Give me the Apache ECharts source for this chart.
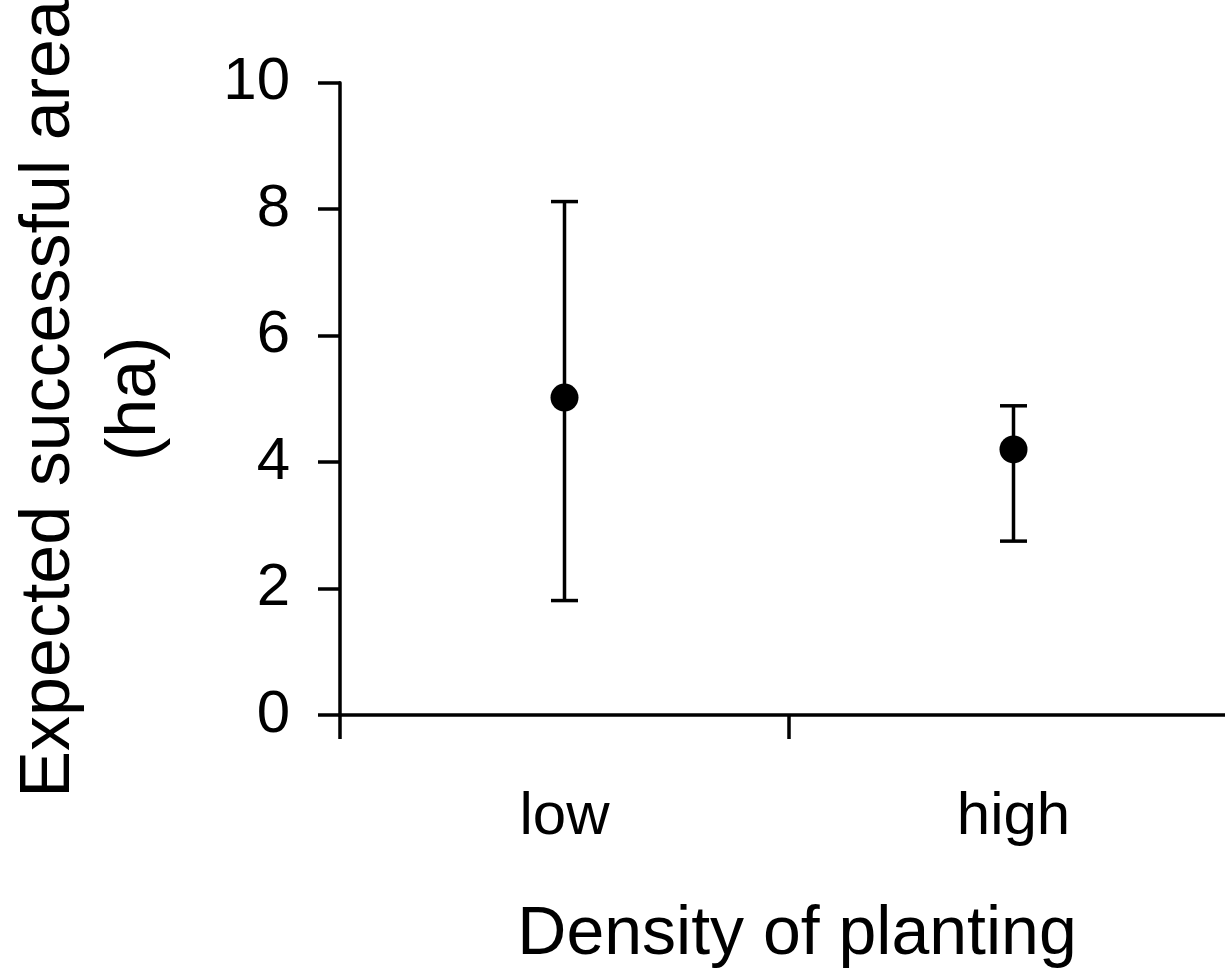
<!DOCTYPE html>
<html>
<head>
<meta charset="utf-8">
<script src="https://cdn.jsdelivr.net/npm/echarts@6/dist/echarts.min.js"></script>
<style>
  html, body { margin: 0; padding: 0; background: #fff; }
  #chart { width: 1225px; height: 973px; }
</style>
</head>
<body>
<div id="chart"></div>
<script>
var categories = ['low', 'high'];
var means = [5.02, 4.20];
var upper = [8.12, 4.89];
var lower = [1.81, 2.75];
var yTicks = [0, 2, 4, 6, 8, 10];

var font = "'Liberation Sans', Arial, sans-serif";
var myChart = echarts.init(document.getElementById('chart'));

var barData = [];
for (var i = 0; i < categories.length; i++) {
  barData.push([i, lower[i], upper[i]]);
}

var option = {
  animation: false,
  backgroundColor: '#fff',
  grid: { left: 340, top: 82.7, width: 898, bottom: 258, containLabel: false, outerBoundsMode: 'none' },
  xAxis: {
    type: 'category',
    data: categories,
    boundaryGap: true,
    axisLine: { lineStyle: { color: '#000', width: 3.5 } },
    axisTick: { show: true, length: 24, lineStyle: { color: '#000', width: 3.5 } },
    axisLabel: { color: '#000', fontSize: 60, fontFamily: font, margin: 72 },
    name: 'Density of planting',
    nameLocation: 'middle',
    nameGap: 186,
    nameTextStyle: { color: '#000', fontSize: 68, fontFamily: font, padding: [0, 0, 0, 16] }
  },
  yAxis: {
    type: 'value',
    min: yTicks[0],
    max: yTicks[yTicks.length - 1],
    interval: 2,
    splitLine: { show: false },
    axisLine: { show: true, lineStyle: { color: '#000', width: 3.5 } },
    axisTick: { show: true, length: 22, lineStyle: { color: '#000', width: 3.5 } },
    axisLabel: { color: '#000', fontSize: 60, fontFamily: font, margin: 50 },
    name: 'Expected successful area\n(ha)',
    nameLocation: 'middle',
    nameGap: 161,
    nameTextStyle: { color: '#000', fontSize: 70, lineHeight: 86, fontFamily: font }
  },
  series: [
    {
      type: 'custom',
      data: barData,
      renderItem: function (params, api) {
        var x = api.value(0);
        var lo = api.coord([x, api.value(1)]);
        var hi = api.coord([x, api.value(2)]);
        var half = 13.5;
        var style = { stroke: '#000', lineWidth: 3.5 };
        return {
          type: 'group',
          children: [
            { type: 'line', shape: { x1: hi[0], y1: hi[1], x2: lo[0], y2: lo[1] }, style: style },
            { type: 'line', shape: { x1: hi[0] - half, y1: hi[1], x2: hi[0] + half, y2: hi[1] }, style: style },
            { type: 'line', shape: { x1: lo[0] - half, y1: lo[1], x2: lo[0] + half, y2: lo[1] }, style: style }
          ]
        };
      },
      z: 2
    },
    {
      type: 'scatter',
      data: means,
      symbol: 'circle',
      symbolSize: 28,
      itemStyle: { color: '#000', opacity: 1 },
      z: 3
    }
  ]
};

myChart.setOption(option);
</script>
</body>
</html>
